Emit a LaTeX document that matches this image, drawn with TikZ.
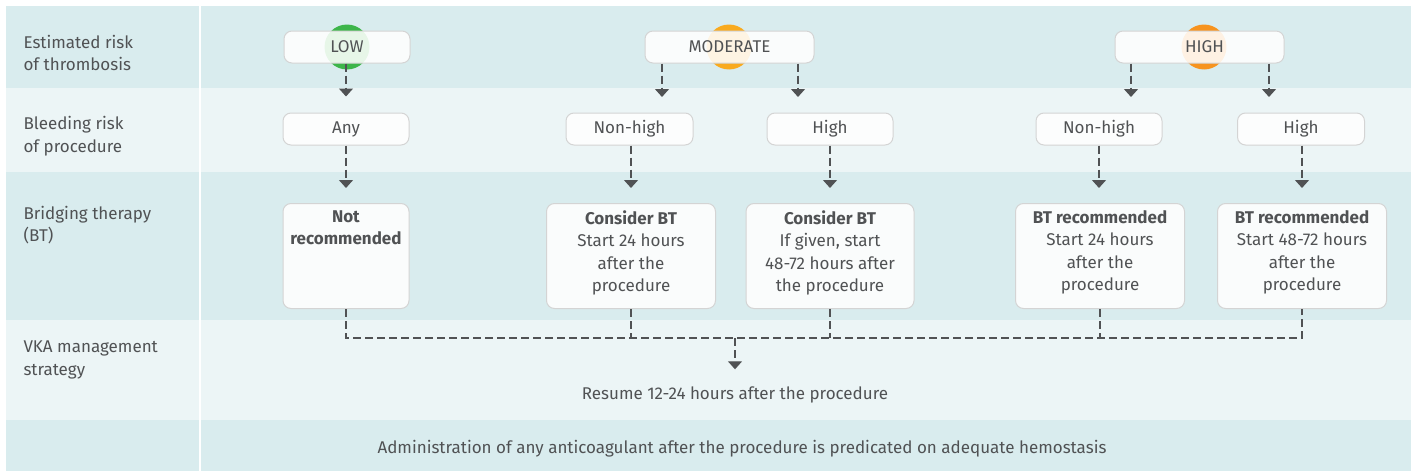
\documentclass[tikz,border=0pt]{standalone}
\usepackage{fontspec}
\setmainfont{Fira Sans}
\usetikzlibrary{arrows.meta}
\definecolor{bandd}{HTML}{D9ECEE}
\definecolor{bandl}{HTML}{ECF5F6}
\definecolor{ink}{HTML}{505254}
\definecolor{lowc}{HTML}{3DB54A}
\definecolor{modc}{HTML}{F9AA1E}
\definecolor{highc}{HTML}{F7931E}

\begin{document}
\begin{tikzpicture}[x=1pt,y=-1pt,>={Triangle[width=14pt,length=8pt]},
    every node/.style={text=ink,font=\fontsize{17}{22.5}\selectfont},
    rowlab/.style={anchor=west,align=left},
    box/.style={draw=black!17,fill=white,fill opacity=0.88,text opacity=1,rounded corners=8pt,line width=1pt,minimum height=32pt,inner sep=0pt},
    bigbox/.style={box,anchor=north,minimum height=105pt},
    link/.style={draw=ink,line width=1.3pt,dash pattern=on 8pt off 4pt},
    flow/.style={link,->,shorten >=15pt}]
                \useasboundingbox (0,0) rectangle (1411,471);
                \fill[bandd] (6,6) rectangle (1411,88);
                \fill[bandl] (6,88) rectangle (1411,172);
                \fill[bandd] (6,172) rectangle (1411,320);
                \fill[bandl] (6,320) rectangle (1411,420);
                \fill[bandd] (6,420) rectangle (1411,471);
                \draw[white,line width=2pt] (200,6)--(200,471);

                \node[rowlab] (lthr) at (20,53) {Estimated risk\\of thrombosis};
                \node[rowlab] (lbld) at (20,136) {Bleeding risk\\of procedure};
                \node[rowlab] (lbt) at (20,225) {Bridging therapy\\(BT)};
                \node[rowlab] (lvka) at (20,360) {VKA management\\strategy};

                \fill[lowc] (347,47) circle (22.5);
                \fill[modc] (729,47) circle (22.5);
                \fill[highc] (1204,47) circle (22.5);

                \node[box,minimum width=126pt] (low) at (347,47) {LOW};
                \node[box,minimum width=169pt] (mod) at (729.5,47) {MODERATE};
                \node[box,minimum width=169pt,text width=169pt,align=center] (high) at (1199.5,47) {\hspace*{10pt}HIGH};

                \node[box,minimum width=126pt] (any) at (346,129) {Any};
                \node[box,minimum width=127pt] (nh1) at (629.5,129) {Non-high};
                \node[box,minimum width=126pt] (hi1) at (830,129) {High};
                \node[box,minimum width=126pt] (nh2) at (1099,129) {Non-high};
                \node[box,minimum width=127pt] (hi2) at (1301,129) {High};

                \node[bigbox,minimum width=126pt] (nrec) at (346,203) {\parbox[c][105pt][t]{120pt}{\centering\vspace*{7pt}\textbf{Not}\\\textbf{recommended}}};
                \node[bigbox,minimum width=169pt] (cbt1) at (631,203) {\parbox[c][105pt][t]{164pt}{\centering\vspace*{7pt}\textbf{Consider BT}\\Start 24 hours\\after the\\procedure}};
                \node[bigbox,minimum width=168pt] (cbt2) at (830,203) {\parbox[c][105pt][t]{164pt}{\centering\vspace*{7pt}\textbf{Consider BT}\\If given, start\\48-72 hours after\\the procedure}};
                \node[bigbox,minimum width=169pt] (btr1) at (1100,203) {\parbox[c][105pt][t]{164pt}{\centering\vspace*{7pt}\textbf{BT recommended}\\Start 24 hours\\after the\\procedure}};
                \node[bigbox,minimum width=169pt] (btr2) at (1302,203) {\parbox[c][105pt][t]{164pt}{\centering\vspace*{7pt}\textbf{BT recommended}\\Start 48-72 hours\\after the\\procedure}};

                \node (resume) at (735,395) {Resume 12-24 hours after the procedure};
                \node (note) at (742,449) {Administration of any anticoagulant after the procedure is predicated on adequate hemostasis};

                \coordinate (m1) at (662,97);
                \coordinate (m2) at (798,97);
                \coordinate (h1) at (1131,97);
                \coordinate (h2) at (1269,97);
                \coordinate (jl) at (346,338);
                \coordinate (jr) at (1302,338);
                \coordinate (jm) at (735,338);

                \draw[flow,shorten >=16pt] (low.south -| any) -- (any);
                \draw[link,->] (mod.south -| m1) -- (m1);
                \draw[link,->] (mod.south -| m2) -- (m2);
                \draw[link,->] (high.south -| h1) -- (h1);
                \draw[link,->] (high.south -| h2) -- (h2);

                \draw[flow] (any) -- (nrec);
                \draw[flow] (nh1.south -| cbt1) -- (cbt1);
                \draw[flow] (hi1) -- (cbt2);
                \draw[flow] (nh2) -- (nh2 |- btr1.north);
                \draw[flow] (hi2.south -| btr2) -- (btr2);

                \draw[link] (nrec.south) -- (jl) -- (jr) -- (btr2.south);
                \draw[link] (cbt1.south) -- (cbt1.south |- jl);
                \draw[link] (cbt2.south) -- (cbt2.south |- jl);
                \draw[link] (btr1.south) -- (btr1.south |- jl);
                \draw[link,->,shorten >=14pt] (jm) -- (resume);
\end{tikzpicture}
\end{document}
